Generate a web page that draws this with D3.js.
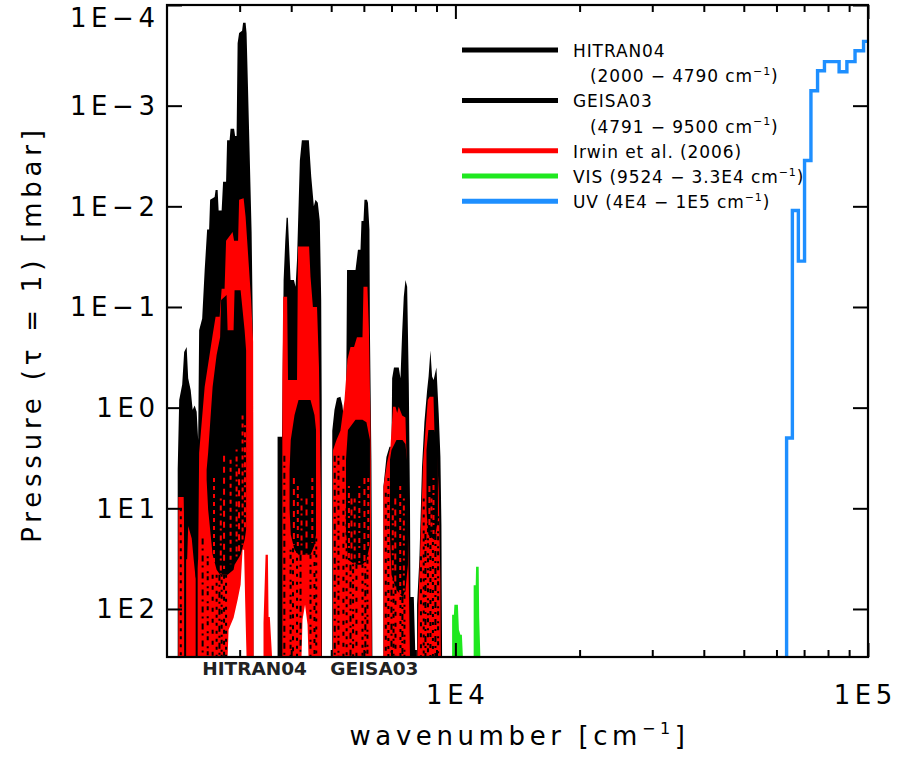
<!DOCTYPE html>
<html>
<head>
<meta charset="utf-8">
<script src="https://cdn.jsdelivr.net/npm/d3@7"></script>
<style>
  body { margin: 0; background: #fff; }
  svg { display: block; }
  text { font-family: "DejaVu Sans", sans-serif; fill: #000; }
</style>
</head>
<body>
<svg id="chart" width="899" height="759"></svg>
<script>
// ---------- axes ----------
const xDomain = [2000, 1e5];          // wavenumber, cm^-1
const yDomain = [1e-4, 300];          // pressure, mbar (drawn downward)
const yTickValues = [1e-4, 1e-3, 1e-2, 1e-1, 1, 10, 100];
const yTickLabels = ["1E−4", "1E−3", "1E−2", "1E−1", "1E0", "1E1", "1E2"];
const xMajorTicks = [1e4, 1e5];
const xMajorLabels = ["1E4", "1E5"];
const xMinorTicks = [3000, 4000, 5000, 6000, 7000, 8000, 9000,
                     20000, 30000, 40000, 50000, 60000, 70000, 80000, 90000];

// ---------- spectra: [wavenumber, pressure of tau = 1] ----------
// 1000 mbar means the trace runs below the lower edge of the plot
const hitranEnvelope = [
  [2123,1000],[2123,4.1],[2141,0.84],[2177,0.59],[2201,0.28],[2232,0.25],[2251,0.51],[2283,0.67],
  [2308,1.05],[2334,0.95],[2360,1.1],[2380,2.1],[2393,0.17],[2434,0.13],[2468,0.043],[2502,0.017],
  [2530,0.017],[2544,0.0086],[2580,0.0083],[2609,0.0081],[2623,0.0069],[2653,0.0069],[2668,0.011],
  [2713,0.011],[2735,0.0057],[2781,0.0057],[2797,0.0022],[2836,0.0022],[2852,0.0017],[2908,0.0017],
  [2925,0.0020],[2949,0.0020],[2966,2.4e-4],[2991,1.9e-4],[3041,1.8e-4],[3058,1.5e-4],[3101,1.5e-4],
  [3118,1.9e-4],[3141,6.0e-4],[3171,0.0028],[3207,0.018],[3230,0.17],[3240,1000],
  [3707,1000],[3707,1.95],[3800,1.95],[3813,0.53],[3834,0.054],[3870,0.022],[3898,0.013],[3926,0.013],
  [3948,0.022],[3986,0.054],[4062,0.054],[4098,0.063],[4132,0.034],[4198,0.0035],[4245,0.0022],
  [4414,0.0022],[4474,0.0051],[4539,0.010],[4581,0.0086],[4640,0.0092],[4692,0.014],[4729,0.085],
  [4742,0.84],[4750,1000]
];
const geisaEnvelope = [
  [5030,1000],[5030,1.7],[5093,1.05],[5164,0.80],[5265,0.78],[5324,0.95],[5368,1.3],[5432,1.3],
  [5462,0.043],[5727,0.043],[5805,0.027],[5888,0.027],[5921,0.014],[5987,0.014],[6020,0.0086],
  [6104,0.0086],[6138,0.0092],[6190,0.017],[6207,0.18],[6258,3.3],[6293,1000],
  [6692,1000],[6692,6.1],[6806,3.1],[6922,2.45],[7000,2.45],[7026,0.51],[7098,0.40],[7290,0.40],
  [7360,0.51],[7429,0.18],[7497,0.079],[7568,0.054],[7640,0.063],[7710,0.57],[7760,8.2],[7781,76],
  [7928,76],[8000,1000],
  [8075,1000],[8075,91],[8180,32],[8300,3.9],[8412,1.4],[8540,0.67],[8610,0.49],[8699,0.27],
  [8780,0.49],[8855,0.53],[8995,0.40],[9110,1.13],[9198,3.1],[9250,15],[9284,1000]
];
const irwinEnvelope = [
  [2130,1000],[2130,7.7],[2195,7.7],[2207,32],[2238,32],[2251,15],[2296,20],[2321,32],[2347,50],
  [2380,32],[2393,2.8],[2468,0.62],[2580,0.19],[2623,0.125],[2683,0.125],[2713,0.066],[2758,0.066],
  [2781,0.022],[2884,0.018],[2908,0.022],[2974,0.022],[2991,0.0086],[3067,0.0083],[3101,0.0127],
  [3159,0.040],[3198,0.085],[3234,0.22],[3243,1000],
  [3427,1000],[3427,137],[3467,29],[3512,29],[3525,120],[3550,120],[3595,1000],
  [3807,1000],[3807,0.53],[3825,0.079],[3910,0.079],[3930,0.53],[4132,0.53],[4155,0.025],[4420,0.025],
  [4455,0.050],[4515,0.10],[4620,0.10],[4670,0.39],[4723,8.2],[4736,1000],
  [5050,1000],[5050,2.65],[5150,2.1],[5265,1.7],[5385,0.84],[5476,0.33],[5569,0.25],[5680,0.25],
  [5773,0.20],[5954,0.20],[5987,0.063],[6121,0.063],[6172,0.17],[6224,1.3],[6275,1000],
  [6692,1000],[6692,6.1],[6830,3.5],[6960,2.45],[7060,0.98],[7158,0.98],[7225,1.13],[7290,0.98],
  [7430,1.2],[7568,1.25],[7640,5.6],[7710,55],[7760,1000],
  [8091,1000],[8136,87],[8350,3.5],[8460,1.7],[8570,0.84],[8660,0.78],[8850,0.78],[8896,1.7],
  [9030,3.1],[9110,6.5],[9198,55],[9220,1000]
];
// dense line cores of the HITRAN/GEISA bands that show through the Irwin bands:
// [wavenumber, upper pressure, lower pressure]; null separates bands
const lineCores = [
  [2495,4.14,5.19],[2516,2.8,10.3],[2580,0.62,29],[2638,0.30,40.8],[2690,0.20,45.8],[2705,0.085,45.8],
  [2789,0.076,45.8],[2805,0.17,45.8],[2900,0.17,40.8],[2916,0.068,36.4],[3016,0.068,29],
  [3084,0.17,20.6],[3110,0.27,16.4], null,
  [3964,4.14,10.3],[3990,2.1,18.3],[4075,1.18,25.8],[4167,0.84,29],[4333,0.84,29],[4455,0.84,29],
  [4555,1.18,23.1],[4594,1.67,18.3], null,
  [5430,3.3,16.4],[5490,1.67,32.5],[5727,1.32,36.4],[5954,1.32,36.4],[6087,1.4,32.5],[6207,2.1,23.1], null,
  [6941,3.3,18.3],[7000,2.63,45.8],[7198,2.1,64.5],[7443,2.1,76.1],[7568,2.3,64.5],[7674,4.14,36.4], null,
  [8510,2.63,10.3],[8600,1.67,18.3],[8896,1.67,20.6],[9070,2.3,13]
];
// single strong lines: [wavenumber, upper pressure, lower pressure]
const darkLines = [
  [2213,9,1000],[2360,32,1000]
];
// broken lines of the line lists inside the Irwin bands
const weakLines = [
  [2160,10,1000],[2440,20,1000],[2510,30,1000],[2580,45.8,1000],[2638,45.8,1000],[2680,45.8,1000],
  [2713,45.8,1000],[2750,45.8,1000],[2781,45.8,1000],
  [3850,3,1000],[3986,25.8,1000],[4040,25,1000],[4132,25.8,1000],[4214,29,1000],[4455,25.8,1000],
  [4555,20.6,1000],[4600,20,1000],
  [5100,3,1000],[5207,3,1000],[5353,3,1000],[5450,10,1000],[5569,36.4,1000],[5650,36,1000],
  [5757,36.4,1000],[5954,36.4,1000],[6050,30,1000],[6121,29,1000],
  [6780,7,1000],[6880,5,1000],[7000,64.5,1000],[7080,50,1000],[7158,64.5,1000],[7360,76,1000],
  [7440,76,1000],[7525,64.5,1000],
  [8250,30,1000],[8380,8,1000],[8460,18,1000],[8580,10,1000],[8699,18,1000],[8820,18,1000],
  [8945,18,1000],[9080,12,1000]
];
const irwinLines = [
  [2600,5,36],[2700,8,45],[2750,3,40],[2852,3.3,36],[2949,2.6,32.5],[2990,4,30],[3049,1.2,23],[3090,1.5,16],
  [4060,5,23],[4150,6,25],[4237,8,29],[4357,8,29],[4500,5,22],
  [5520,6,32],[5600,8,36],[5700,8,36],[5850,6,36],[6020,5,36],[6150,5,25],
  [7050,10,45],[7150,8,64],[7350,6,76],[7500,8,70],
  [8650,6,16],[8750,8,17],[8850,5,18]
];
// windows where no line reaches tau = 1 above the lower boundary
const clearWindows = [
  [2805,1000],[2820,161],[2900,122],[2966,81],[3016,57.5],[3049,25.8],[3075,25.8],[3093,81],
  [3110,202],[3118,1000],
  [4237,1000],[4261,128],[4321,91],[4382,143],[4406,1000]
];
const visSpectrum = [
  [9818,1000],[9818,114],[9917,114],[9944,91],[10140,91],[10197,161],[10283,180],[10369,180],[10427,1000],
  [11073,1000],[11073,58],[11200,58],[11223,38],[11387,38],[11420,120],[11495,1000]
];
// UV: 5 nm bins, edges given in wavenumber
const uvEdges = [63490, 65570, 67800, 70180, 72730, 75470, 78430, 81630, 85110, 88890, 93020, 97560, 100000];
const uvPressure = [2.0, 0.011, 0.035, 0.0035, 7.1e-4, 4.5e-4, 3.65e-4, 3.65e-4, 4.6e-4, 3.65e-4, 2.85e-4, 2.3e-4];

// ---------- legend ----------
const legendRows = [
  { label: "HITRAN04", series: "hitran" },
  { label: "(2000 − 4790 cm{−1})", series: null },
  { label: "GEISA03", series: "geisa" },
  { label: "(4791 − 9500 cm{−1})", series: null },
  { label: "Irwin et al. (2006)", series: "irwin" },
  { label: "VIS (9524 − 3.3E4 cm{−1})", series: "vis" },
  { label: "UV (4E4 − 1E5 cm{−1})", series: "uv" }
];
const bandLabels = ["HITRAN04", "GEISA03"];

// ---------- styling / layout ----------
const colors = { hitran: "#000000", geisa: "#000000", irwin: "#ff0000", vis: "#1fe81f", uv: "#1e8fff" };
const darkDashes = ["3 5", "6 4 2 5", "2 3 4 6", "4 7"];
const redDashes = ["4 4", "2 5 5 3", "6 5"];
const plot = { left: 167, right: 868, top: 5, bottom: 657 };

const svg = d3.select("#chart");
const x = d3.scaleLog().domain(xDomain).range([plot.left, plot.right]);
const y = d3.scaleLog().domain(yDomain).range([plot.top, plot.bottom]).clamp(true);

svg.append("defs").append("clipPath").attr("id", "plotClip")
  .append("rect").attr("x", plot.left).attr("y", plot.top)
  .attr("width", plot.right - plot.left).attr("height", plot.bottom - plot.top);

const layer = svg.append("g").attr("clip-path", "url(#plotClip)");

const fillArea = d3.area().x(d => x(d[0])).y0(plot.bottom).y1(d => y(d[1]));
const bandArea = d3.area().defined(d => d !== null)
  .x(d => x(d[0])).y0(d => y(d[2])).y1(d => y(d[1]));

function lineSet(data, color, width, dashes) {
  layer.append("g").selectAll("line").data(data).join("line")
    .attr("x1", d => x(d[0])).attr("x2", d => x(d[0]))
    .attr("y1", d => y(d[1])).attr("y2", d => y(d[2]))
    .attr("stroke", color).attr("stroke-width", width)
    .attr("stroke-dasharray", (d, i) => dashes ? dashes[i % dashes.length] : null);
}

layer.append("path").attr("d", fillArea(hitranEnvelope)).attr("fill", colors.hitran);
layer.append("path").attr("d", fillArea(geisaEnvelope)).attr("fill", colors.geisa);
layer.append("path").attr("d", fillArea(irwinEnvelope)).attr("fill", colors.irwin);
layer.append("path").attr("d", bandArea(lineCores)).attr("fill", colors.hitran);
lineSet(darkLines, colors.hitran, 2, null);
lineSet(weakLines, colors.hitran, 2, darkDashes);
lineSet(irwinLines, colors.irwin, 2, redDashes);
layer.append("path").attr("d", fillArea(clearWindows)).attr("fill", "#fff");
layer.append("path").attr("d", fillArea(visSpectrum)).attr("fill", colors.vis);

const uvSteps = [[uvEdges[0], 1000]]
  .concat(uvPressure.map((p, i) => [uvEdges[i], p]))
  .concat([[uvEdges[uvEdges.length - 1], uvPressure[uvPressure.length - 1]]]);
layer.append("path")
  .attr("d", d3.line().curve(d3.curveStepAfter).x(d => x(d[0])).y(d => y(d[1]))(uvSteps))
  .attr("fill", "none").attr("stroke", colors.uv).attr("stroke-width", 3.4);

// ---------- frame and ticks ----------
function ticks(gen, transform) {
  svg.append("g").attr("transform", transform).call(gen)
    .call(g => g.select(".domain").remove())
    .call(g => g.selectAll("line").attr("stroke", "#000").attr("stroke-width", 2));
}
ticks(d3.axisBottom(x).tickValues(xMinorTicks).tickSize(-7).tickFormat(""), `translate(0,${plot.bottom})`);
ticks(d3.axisBottom(x).tickValues(xMajorTicks).tickSize(-14).tickFormat(""), `translate(0,${plot.bottom})`);
ticks(d3.axisTop(x).tickValues(xMinorTicks).tickSize(-7).tickFormat(""), `translate(0,${plot.top})`);
ticks(d3.axisTop(x).tickValues(xMajorTicks).tickSize(-14).tickFormat(""), `translate(0,${plot.top})`);
ticks(d3.axisLeft(y).tickValues(yTickValues).tickSize(-15).tickFormat(""), `translate(${plot.left},0)`);
ticks(d3.axisRight(y).tickValues(yTickValues).tickSize(-15).tickFormat(""), `translate(${plot.right},0)`);

svg.append("rect").attr("x", plot.left).attr("y", plot.top)
  .attr("width", plot.right - plot.left).attr("height", plot.bottom - plot.top)
  .attr("fill", "none").attr("stroke", "#000").attr("stroke-width", 2.2);

// tick labels
const tickFont = 26, tickSpacing = 4.6;
svg.append("g").selectAll("text").data(yTickValues).join("text")
  .attr("x", plot.left - 12 + tickSpacing)
  .attr("y", d => Math.max(y(d), plot.top + 13))
  .attr("dy", "0.36em")
  .attr("text-anchor", "end")
  .attr("font-size", tickFont)
  .style("letter-spacing", tickSpacing + "px")
  .text((d, i) => yTickLabels[i]);

const width = +svg.attr("width");
svg.append("g").selectAll("text").data(xMajorTicks).join("text")
  .attr("x", d => x(d) + tickSpacing / 2)
  .attr("y", plot.bottom + 47)
  .attr("text-anchor", "middle")
  .attr("font-size", tickFont)
  .style("letter-spacing", tickSpacing + "px")
  .text((d, i) => xMajorLabels[i])
  .each(function () {
    // keep the last label inside the page
    const b = this.getBBox();
    const over = b.x + b.width - (width - 2);
    if (over > 0) d3.select(this).attr("x", +d3.select(this).attr("x") - over);
  });

// rich text with {superscript} parts
function addRich(sel, str, size) {
  const supSize = Math.round(size * 0.62), shift = size * 0.42;
  let raised = false;
  str.split(/(\{[^}]*\})/).filter(s => s).forEach(s => {
    if (s[0] === "{") {
      sel.append("tspan").attr("font-size", supSize).attr("dy", -shift).text(s.slice(1, -1));
      raised = true;
    } else {
      const t = sel.append("tspan").text(s);
      if (raised) { t.attr("dy", shift); raised = false; }
    }
  });
}

// axis titles
const xTitle = svg.append("text")
  .attr("x", (plot.left + plot.right) / 2 + 2).attr("y", 745)
  .attr("text-anchor", "middle").attr("font-size", tickFont)
  .style("letter-spacing", tickSpacing + "px");
addRich(xTitle, "wavenumber [cm{−1}]", tickFont);

svg.append("text")
  .attr("transform", `translate(41,${(plot.top + plot.bottom) / 2 + 3}) rotate(-90)`)
  .attr("text-anchor", "middle").attr("font-size", tickFont)
  .style("letter-spacing", "4.8px")
  .text("Pressure (τ = 1) [mbar]");

// band names under the axis
const bandLabelCenters = [3261, 6364];
svg.append("g").selectAll("text").data(bandLabels).join("text")
  .attr("x", (d, i) => x(bandLabelCenters[i]))
  .attr("y", plot.bottom + 18)
  .attr("text-anchor", "middle")
  .attr("font-family", "Liberation Sans, Arial, sans-serif")
  .attr("font-weight", "bold")
  .attr("font-size", 18.5)
  .style("fill", "#222")
  .text(d => d);

// legend
const legend = { lineX0: 462, lineX1: 558, textX: 573, indentX: 590, firstBaseline: 57, step: 25.2, size: 17 };
legendRows.forEach((row, i) => {
  const base = legend.firstBaseline + i * legend.step;
  if (row.series) {
    svg.append("line")
      .attr("x1", legend.lineX0).attr("x2", legend.lineX1)
      .attr("y1", base - 7).attr("y2", base - 7)
      .attr("stroke", colors[row.series]).attr("stroke-width", 5);
  }
  const t = svg.append("text")
    .attr("x", row.series ? legend.textX : legend.indentX).attr("y", base)
    .attr("font-size", legend.size)
    .style("letter-spacing", "0.9px");
  addRich(t, row.label, legend.size);
});
</script>
</body>
</html>
